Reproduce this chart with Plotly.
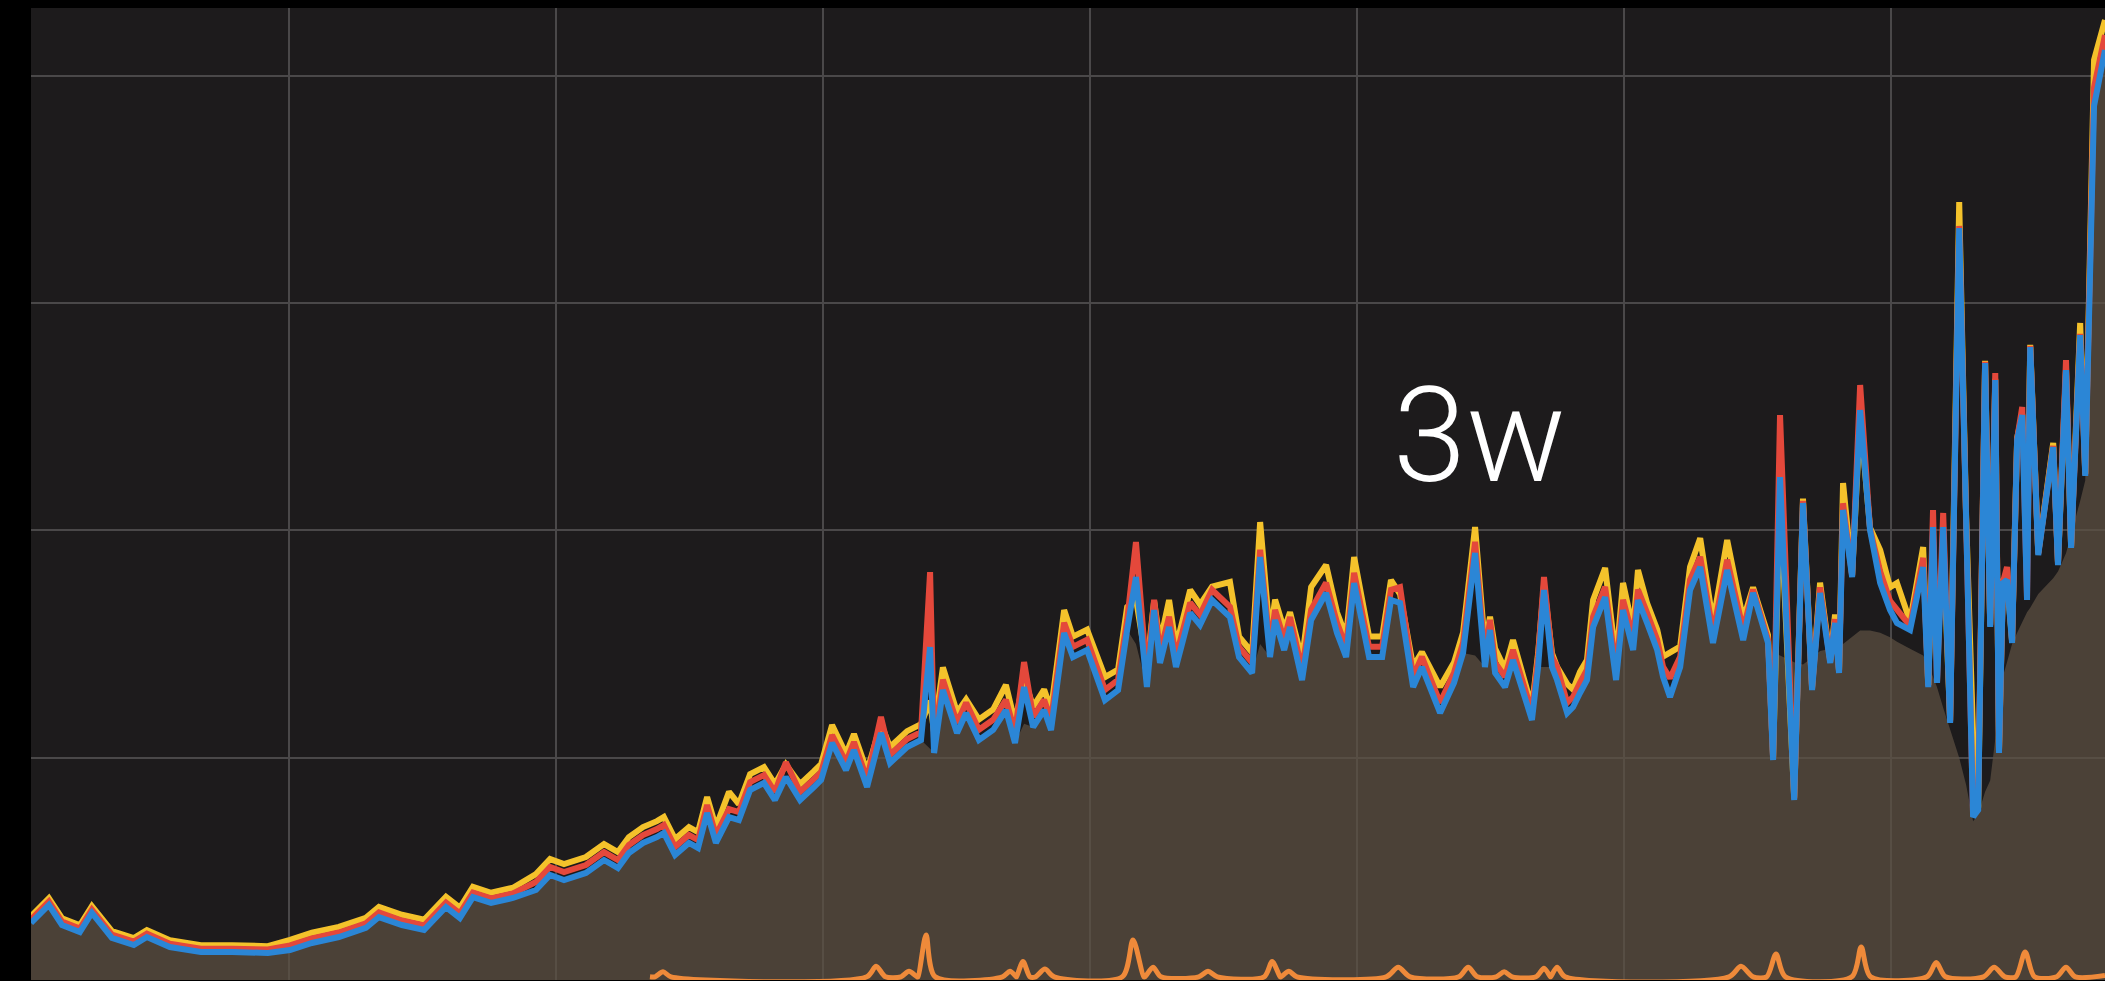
import plotly.graph_objects as go

# time axis in days (grid every day)
x_days = [0.034, 0.101, 0.150, 0.217, 0.262, 0.337, 0.419, 0.468, 0.554, 0.670,
          0.787, 0.921, 1.004, 1.086, 1.187, 1.288, 1.337, 1.423, 1.506, 1.588,
          1.640, 1.689, 1.757, 1.839, 1.925, 1.978, 2.030, 2.112, 2.180, 2.232,
          2.273, 2.326, 2.378, 2.404, 2.446, 2.498, 2.532, 2.566, 2.599, 2.648,
          2.685, 2.727, 2.779, 2.820, 2.861, 2.914, 2.966, 2.993, 3.034, 3.086,
          3.116, 3.165, 3.217, 3.251, 3.315, 3.367, 3.401, 3.416, 3.449, 3.502,
          3.536, 3.584, 3.637, 3.685, 3.719, 3.753, 3.787, 3.828, 3.854, 3.903,
          3.936, 3.989, 4.056, 4.105, 4.139, 4.172, 4.213, 4.240, 4.262, 4.296,
          4.322, 4.375, 4.412, 4.457, 4.524, 4.558, 4.607, 4.637, 4.674, 4.693,
          4.727, 4.749, 4.794, 4.828, 4.884, 4.925, 4.959, 4.989, 5.045, 5.094,
          5.127, 5.161, 5.210, 5.243, 5.311, 5.363, 5.397, 5.442, 5.479, 5.498,
          5.517, 5.554, 5.584, 5.622, 5.655, 5.678, 5.700, 5.730, 5.749, 5.787,
          5.809, 5.835, 5.861, 5.884, 5.929, 5.970, 5.996, 6.034, 6.052, 6.086,
          6.124, 6.146, 6.172, 6.210, 6.247, 6.285, 6.333, 6.386, 6.446, 6.483,
          6.539, 6.558, 6.584, 6.637, 6.670, 6.704, 6.734, 6.772, 6.790, 6.805,
          6.820, 6.854, 6.884, 6.921, 6.959, 6.996, 7.022, 7.071, 7.120, 7.139,
          7.157, 7.172, 7.195, 7.221, 7.255, 7.281, 7.307, 7.326, 7.352, 7.371,
          7.390, 7.404, 7.419, 7.434, 7.453, 7.472, 7.491, 7.509, 7.521, 7.551,
          7.607, 7.625, 7.655, 7.674, 7.708, 7.727, 7.760, 7.801]

blue = [27.3, 35.2, 26.4, 23.3, 31.7, 20.7, 17.6, 21.1, 16.7, 14.5,
        14.5, 14.1, 15.4, 18.5, 21.1, 25.1, 29.9, 26.4, 24.2, 34.3,
        29.5, 38.7, 36.1, 38.3, 41.8, 48.4, 46.2, 49.3, 55.0, 51.5,
        58.1, 62.5, 65.1, 66.9, 57.2, 62.5, 60.3, 75.7, 62.5, 73.9,
        72.6, 85.8, 88.9, 81.4, 91.5, 81.4, 87.1, 90.2, 106.5, 94.6,
        103.4, 87.1, 110.9, 97.7, 104.7, 107.8, 148.7, 102.1, 129.8, 110.9,
        119.7, 107.8, 112.2, 121.0, 106.5, 131.1, 113.5, 121.0, 112.2, 154.9,
        144.3, 147.4, 125.4, 129.8, 156.2, 179.5, 131.1, 165.0, 141.7, 157.5,
        139.9, 163.7, 158.4, 169.4, 161.9, 144.3, 137.3, 188.3, 144.3, 160.6,
        147.4, 157.5, 134.2, 160.6, 172.5, 154.9, 144.3, 176.9, 144.3, 144.3,
        169.4, 168.1, 131.1, 139.9, 119.7, 132.9, 146.1, 190.1, 139.9, 156.2,
        137.3, 131.1, 143.0, 128.5, 116.6, 139.9, 173.8, 139.9, 134.2, 119.7,
        122.3, 128.5, 134.2, 157.5, 170.7, 134.2, 165.0, 147.4, 169.4, 159.3,
        147.4, 135.5, 126.7, 139.9, 173.8, 183.9, 150.5, 182.6, 151.8, 172.5,
        150.5, 99.0, 223.5, 81.4, 212.1, 129.8, 172.5, 141.7, 159.3, 137.3,
        209.0, 179.5, 253.0, 200.2, 176.9, 165.0, 159.3, 156.2, 183.9, 131.1,
        201.5, 132.9, 201.5, 115.3, 333.1, 204.6, 73.9, 77.0, 273.7, 157.5,
        266.2, 102.1, 176.9, 178.2, 150.5, 239.8, 250.8, 169.4, 280.7, 189.2,
        236.7, 184.8, 270.6, 192.3, 286.0, 224.0, 386.8, 411.4]

yellow = [30.3, 38.2, 29.4, 26.3, 34.7, 23.7, 20.6, 24.1, 19.7, 17.5,
          17.5, 17.1, 19.9, 23.0, 25.6, 29.6, 34.4, 30.9, 28.7, 38.8,
          34.0, 43.2, 40.6, 42.8, 48.8, 55.4, 53.2, 56.3, 62.0, 58.5,
          65.1, 69.5, 72.1, 73.9, 64.2, 69.5, 67.3, 82.7, 69.5, 85.0,
          79.6, 92.8, 95.9, 88.4, 97.0, 88.4, 94.1, 97.2, 114.4, 101.6,
          110.4, 94.1, 115.0, 104.7, 111.7, 114.8, 125.0, 111.1, 139.8, 119.9,
          125.7, 116.8, 121.2, 132.0, 115.5, 135.0, 122.5, 130.0, 121.2, 165.0,
          153.3, 156.4, 135.5, 138.8, 166.3, 170.0, 140.1, 169.0, 150.7, 169.4,
          148.9, 173.8, 167.4, 175.3, 177.3, 153.3, 146.3, 203.7, 153.3, 169.6,
          156.4, 164.0, 143.2, 175.1, 184.8, 163.9, 153.3, 188.3, 153.3, 153.3,
          178.2, 172.0, 140.1, 146.5, 131.2, 141.9, 155.1, 201.5, 148.9, 162.0,
          148.0, 139.0, 151.8, 136.5, 122.3, 146.0, 176.0, 146.0, 140.0, 132.4,
          130.0, 137.8, 143.0, 169.4, 183.5, 143.0, 176.9, 156.4, 182.6, 168.1,
          156.4, 144.5, 146.1, 148.9, 183.9, 196.6, 159.5, 195.8, 160.8, 175.0,
          154.0, 100.0, 215.0, 82.4, 214.0, 131.0, 177.0, 143.0, 163.0, 138.3,
          220.9, 180.5, 250.0, 201.2, 191.4, 175.0, 176.9, 160.0, 192.7, 132.1,
          195.0, 143.4, 195.0, 116.3, 344.5, 205.6, 110.0, 78.0, 274.7, 158.5,
          266.7, 103.1, 177.9, 179.0, 151.5, 240.8, 251.3, 193.6, 281.7, 190.2,
          238.5, 185.8, 271.1, 193.3, 291.3, 225.0, 407.0, 424.6]

red = [28.8, 36.7, 27.9, 24.8, 33.2, 22.2, 19.1, 22.6, 18.2, 16.0,
       16.0, 15.6, 17.4, 20.5, 23.1, 27.1, 31.9, 28.4, 26.2, 36.3,
       31.5, 40.7, 38.1, 40.3, 45.3, 51.9, 49.7, 52.8, 58.5, 55.0,
       61.6, 66.0, 68.6, 70.4, 60.7, 66.0, 63.8, 79.2, 66.0, 77.4,
       76.1, 89.3, 92.4, 84.9, 98.0, 84.9, 90.6, 93.7, 110.0, 98.1,
       106.9, 90.6, 118.0, 101.2, 108.2, 111.3, 181.7, 106.6, 134.3, 115.4,
       124.2, 112.3, 116.7, 125.5, 111.0, 142.1, 118.0, 125.5, 116.7, 159.4,
       148.8, 151.9, 129.9, 134.3, 160.7, 194.9, 135.6, 169.5, 146.2, 162.0,
       144.4, 168.2, 162.9, 173.9, 166.4, 148.8, 141.8, 191.5, 148.8, 165.1,
       151.9, 161.9, 138.7, 165.1, 177.0, 159.4, 148.8, 181.4, 148.8, 148.8,
       173.9, 175.1, 135.6, 144.4, 124.2, 137.4, 150.6, 195.0, 144.4, 160.7,
       141.8, 135.6, 147.5, 133.0, 120.1, 144.4, 179.5, 144.4, 140.0, 124.2,
       126.8, 133.0, 138.7, 162.0, 175.2, 138.7, 169.5, 153.0, 174.0, 163.8,
       151.9, 140.0, 135.0, 144.4, 178.3, 188.4, 155.0, 187.1, 156.3, 174.0,
       152.0, 99.5, 250.8, 81.9, 213.0, 130.3, 175.0, 142.2, 161.0, 137.8,
       212.0, 180.0, 264.0, 200.7, 182.0, 169.0, 165.0, 158.0, 188.0, 131.6,
       209.0, 133.4, 207.7, 115.8, 334.0, 205.1, 74.4, 83.6, 274.2, 158.0,
       269.3, 102.6, 177.4, 183.9, 151.0, 240.3, 254.3, 170.0, 281.2, 189.7,
       237.2, 185.3, 275.0, 192.8, 286.5, 224.5, 395.0, 418.0]

fill_top = [27.3, 35.2, 26.4, 23.3, 31.7, 20.7, 17.6, 21.1, 16.7, 14.5,
            14.5, 14.1, 15.4, 18.5, 21.1, 25.1, 29.9, 26.4, 24.2, 34.3,
            29.5, 38.7, 36.1, 38.3, 41.8, 48.4, 46.2, 49.3, 55.0, 51.5,
            58.1, 62.5, 65.1, 66.9, 57.2, 62.5, 60.3, 75.7, 62.5, 73.9,
            72.6, 85.8, 88.9, 81.4, 91.5, 81.4, 87.1, 90.2, 106.5, 94.6,
            103.4, 87.1, 110.9, 97.7, 104.7, 107.8, 104.0, 102.1, 129.8, 110.9,
            119.7, 107.8, 112.2, 121.0, 106.5, 115.0, 113.5, 121.0, 112.2, 154.9,
            144.3, 147.4, 125.4, 129.8, 156.2, 150.0, 131.1, 165.0, 141.7, 157.5,
            139.9, 163.7, 158.4, 169.4, 161.9, 144.3, 137.3, 150.0, 144.3, 160.6,
            147.4, 157.5, 134.2, 160.6, 172.5, 154.9, 144.3, 176.9, 144.3, 144.3,
            169.4, 168.1, 131.1, 139.9, 119.7, 132.9, 146.1, 145.0, 139.9, 156.2,
            137.3, 131.1, 143.0, 128.5, 116.6, 139.9, 140.0, 139.9, 134.2, 119.7,
            122.3, 128.5, 134.2, 157.5, 170.7, 134.2, 165.0, 147.4, 169.4, 159.3,
            147.4, 135.5, 126.7, 139.9, 173.8, 183.9, 150.5, 182.6, 151.8, 172.5,
            150.5, 146.0, 145.0, 142.0, 141.0, 144.0, 147.0, 148.0, 148.0, 148.0,
            150.0, 153.0, 156.0, 156.0, 155.0, 153.0, 151.0, 148.0, 145.0, 141.0,
            136.0, 131.0, 122.0, 112.0, 100.0, 88.0, 72.0, 75.0, 85.0, 90.0,
            108.0, 122.0, 136.0, 142.0, 150.0, 155.0, 160.0, 164.0, 166.0, 172.0,
            179.0, 182.0, 190.0, 198.0, 213.0, 222.0, 385.0, 413.0]

orange_x = [2.352,
            2.371, 2.401, 2.431, 3.164, 3.199, 3.234, 3.292, 3.322, 3.352,
            3.356, 3.386, 3.420, 3.672, 3.700, 3.724, 3.725, 3.749, 3.775,
            3.796, 3.831, 3.866, 4.121, 4.161, 4.201, 4.206, 4.236, 4.266,
            4.407, 4.442, 4.477, 4.652, 4.682, 4.712, 4.715, 4.745, 4.775,
            5.109, 5.154, 5.199, 5.381, 5.416, 5.451, 5.521, 5.551, 5.581,
            5.670, 5.700, 5.724, 5.725, 5.749, 5.779, 6.393, 6.438, 6.483,
            6.534, 6.569, 6.604, 6.853, 6.888, 6.923, 7.134, 7.169, 7.204,
            7.346, 7.386, 7.426, 7.467, 7.502, 7.537, 7.620, 7.655, 7.690,
            7.801]

orange = [3.6,
          3.6, 5.8, 3.6, 3.6, 8.2, 3.6, 3.6, 6.0, 3.6,
          3.6, 22.0, 3.6, 3.6, 6.0, 3.6, 3.6, 10.3, 3.6,
          3.6, 7.0, 3.6, 3.6, 19.8, 3.6, 3.6, 7.8, 3.6,
          3.6, 6.0, 3.6, 3.6, 10.3, 3.6, 3.6, 6.0, 3.6,
          3.6, 7.8, 3.6, 3.6, 7.8, 3.6, 3.6, 5.8, 3.6,
          3.6, 7.4, 3.6, 3.6, 7.8, 3.6, 3.6, 8.2, 3.6,
          3.6, 13.6, 3.6, 3.6, 16.7, 3.6, 3.6, 9.9, 3.6,
          3.6, 7.8, 3.6, 3.6, 14.5, 3.6, 3.6, 7.8, 3.6,
          4.2]

label_text = "3w"
label_x = 5.46
label_y = 241.5

fig = go.Figure()
fig.add_trace(go.Scatter(x=x_days, y=fill_top, mode="lines", line=dict(width=0),
                         fill="tozeroy", fillcolor="rgba(93,81,67,0.72)", hoverinfo="skip"))
fig.add_trace(go.Scatter(x=orange_x, y=orange, mode="lines",
                         line=dict(color="#ef8a3a", width=5, shape="spline", smoothing=0.8)))
fig.add_trace(go.Scatter(x=x_days, y=yellow, mode="lines", line=dict(color="#f4c22b", width=6)))
fig.add_trace(go.Scatter(x=x_days, y=red, mode="lines", line=dict(color="#e4483b", width=6)))
fig.add_trace(go.Scatter(x=x_days, y=blue, mode="lines", line=dict(color="#2b86d6", width=6)))

fig.add_annotation(x=label_x, y=label_y, text=label_text, showarrow=False,
                   xanchor="center", yanchor="middle",
                   font=dict(family="Roboto", size=132, color="#ffffff", weight=300))

fig.update_layout(
    width=2105, height=981,
    margin=dict(l=31, r=0, t=8, b=1),
    paper_bgcolor="#000000", plot_bgcolor="#1d1b1c",
    showlegend=False,
)
fig.update_xaxes(range=[0.034, 7.801], dtick=1, tick0=0, showgrid=True,
                 gridcolor="#4a4849", gridwidth=2, zeroline=False,
                 showticklabels=False, ticks="", showline=False)
fig.update_yaxes(range=[2.2, 429.9], dtick=100, tick0=0, showgrid=True,
                 gridcolor="#4a4849", gridwidth=2, zeroline=False,
                 showticklabels=False, ticks="", showline=False)

fig.write_html("out.html", config={"displayModeBar": False},
               post_script="document.body.style.margin='0';document.body.style.overflow='hidden';")
